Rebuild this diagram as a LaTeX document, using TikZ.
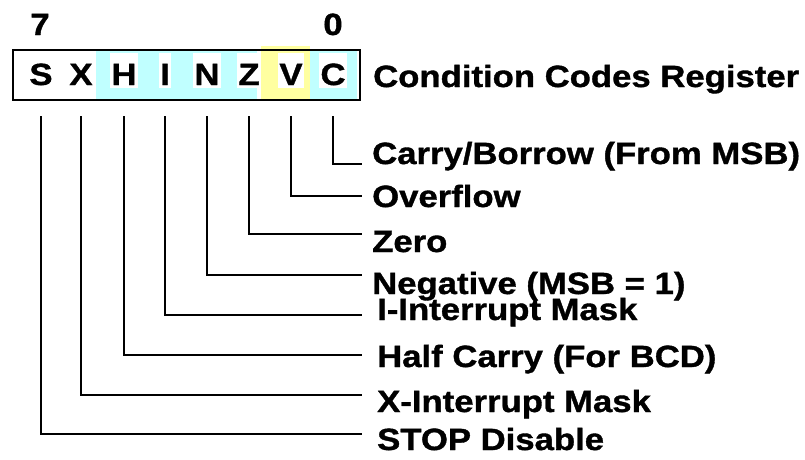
\documentclass[tikz,border=0pt]{standalone}
\usepackage{fontspec}
\setmainfont[FakeStretch=1.13, BoldFeatures={FakeBold=1.2}]{Liberation Sans}
\definecolor{ccrcyan}{RGB}{192,255,255}
\definecolor{ccryellow}{RGB}{255,255,160}
\tikzset{
  bigbold/.style={font=\bfseries\fontsize{30.7}{32}\selectfont},
  bitcell/.style={bigbold, anchor=base, fill=white, inner xsep=1pt, inner ysep=3pt, text height=29pt, text depth=0pt},
  flaglbl/.style={bigbold, anchor=base west, inner sep=0pt},
  wire/.style={line width=2pt}
}
\begin{document}
\begin{tikzpicture}[x=1pt, y=-1pt]
\useasboundingbox (0,0) rectangle (805,459);
\fill[ccrcyan] (96,50) rectangle (257,99);
\fill[ccryellow] (261,46) rectangle (310,99);
\fill[ccrcyan] (310,50) rectangle (357,99);
\draw[line width=2pt] (13,50) rectangle (360,100);
\node[bigbold, anchor=base] (msb) at (40,35) {7};
\node[bigbold, anchor=base] (lsb) at (333,35) {0};
\node[bitcell] (bS) at (41,85) {S};
\node[bitcell] (bX) at (81,85) {X};
\node[bitcell] (bH) at (124,85) {H};
\node[bitcell] (bI) at (165,85) {I};
\node[bitcell] (bN) at (207,85) {N};
\node[bitcell] (bZ) at (249,85) {Z};
\node[bitcell] (bV) at (291,85) {V};
\node[bitcell] (bC) at (333,85) {C};
\node[flaglbl] (ccr) at (373,87) {Condition Codes Register};
\coordinate (top) at (0,116);
\coordinate (eC) at (362,164);
\coordinate (eV) at (362,196);
\coordinate (eZ) at (362,234);
\coordinate (eN) at (362,275);
\coordinate (eI) at (362,315);
\coordinate (eH) at (362,355);
\coordinate (eX) at (362,395);
\coordinate (eS) at (362,434);
\draw[wire] (bC |- top) |- (eC);
\draw[wire] (bV |- top) |- (eV);
\draw[wire] (bZ |- top) |- (eZ);
\draw[wire] (bN |- top) |- (eN);
\draw[wire] (bI |- top) |- (eI);
\draw[wire] (bH |- top) |- (eH);
\draw[wire] (bX |- top) |- (eX);
\draw[wire] (bS |- top) |- (eS);
\node[flaglbl] (lC) at (372,164) {Carry/Borrow (From MSB)};
\node[flaglbl] (lV) at (372,207) {Overflow};
\node[flaglbl] (lZ) at (372,252) {Zero};
\node[flaglbl] (lN) at (372,294) {Negative (MSB = 1)};
\node[flaglbl] (lI) at (377,320) {I-Interrupt Mask};
\node[flaglbl] (lH) at (377,367) {Half Carry (For BCD)};
\node[flaglbl] (lX) at (377,412) {X-Interrupt Mask};
\node[flaglbl] (lS) at (377,450) {STOP Disable};
\end{tikzpicture}
\end{document}
